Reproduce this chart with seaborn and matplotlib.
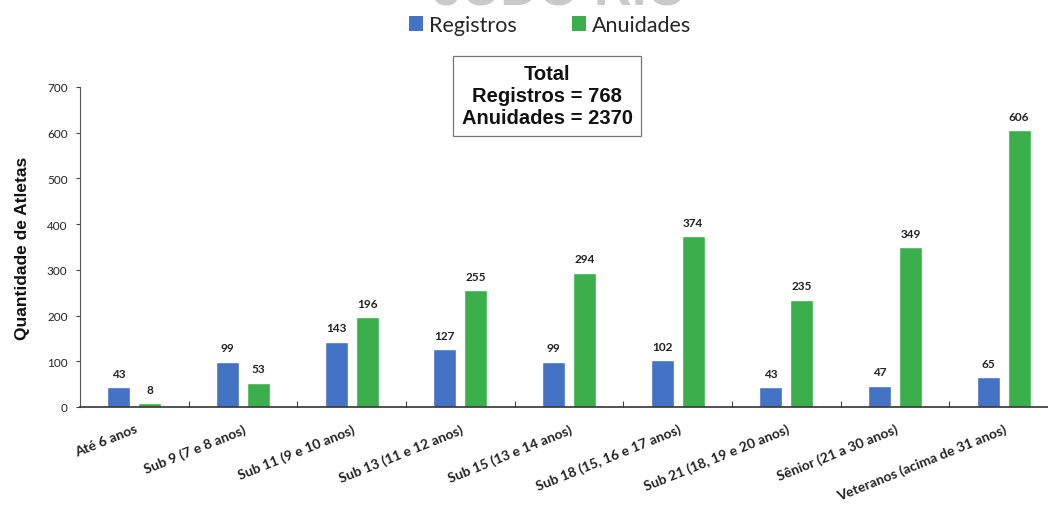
import matplotlib
matplotlib.use("Agg")
import matplotlib.pyplot as plt
import seaborn as sns
import pandas as pd
from matplotlib.ticker import FixedLocator
from matplotlib.patches import Patch

categories = ["Até 6 anos", "Sub 9 (7 e 8 anos)", "Sub 11 (9 e 10 anos)",
              "Sub 13 (11 e 12 anos)", "Sub 15 (13 e 14 anos)",
              "Sub 18 (15, 16 e 17 anos)", "Sub 21 (18, 19 e 20 anos)",
              "Sênior (21 a 30 anos)", "Veteranos (acima de 31 anos)"]
registros = [43, 99, 143, 127, 99, 102, 43, 47, 65]
anuidades = [8, 53, 196, 255, 294, 374, 235, 349, 606]
series_names = ["Registros", "Anuidades"]
total_text = "Total\nRegistros = 768\nAnuidades = 2370"

df = pd.DataFrame({
    "cat": categories * 2,
    "val": registros + anuidades,
    "serie": [series_names[0]] * len(categories) + [series_names[1]] * len(categories),
})

sns.set_theme(style="white")
plt.rcParams["font.family"] = ["Lato", "DejaVu Sans"]

colors = {"Registros": "#4472C4", "Anuidades": "#3AAF4C"}

fig = plt.figure(figsize=(10.48, 5.06), dpi=100)
ax = fig.add_axes([80 / 1048, 1 - 408 / 506, (1058 - 80) / 1048, 320 / 506])

sns.barplot(data=df, x="cat", y="val", hue="serie", palette=colors,
            width=0.57, gap=0.26, ax=ax, legend=False, saturation=1)

ax.set_ylim(0, 700)
ax.set_xlim(-0.5, len(categories) - 0.5)
ax.set_yticks(range(0, 701, 100))
ax.tick_params(axis="y", labelsize=8.5, length=3, width=0.8, color="#444444",
               labelcolor="#222222", pad=6, direction="out", left=True)
ax.set_xticks(range(len(categories)))
ax.set_xticklabels(categories, rotation=22, ha="right", rotation_mode="anchor",
                   fontsize=10, fontweight="bold", color="#222222")
ax.tick_params(axis="x", length=0, pad=11)
ax.xaxis.set_minor_locator(FixedLocator([i + 0.5 for i in range(len(categories) - 1)]))
ax.tick_params(axis="x", which="minor", length=4, width=0.8, color="#444444",
               direction="in", bottom=True)
ax.set_xlabel("")
ax.set_ylabel("Quantidade de Atletas", fontsize=12.5, fontweight="bold",
              family="Liberation Sans", color="#111111", labelpad=12)

for s in ["top", "right"]:
    ax.spines[s].set_visible(False)
ax.spines["left"].set_color("#555555")
ax.spines["bottom"].set_color("#333333")
ax.spines["left"].set_linewidth(0.8)
ax.spines["bottom"].set_linewidth(1.2)

for cont in ax.containers:
    ax.bar_label(cont, fmt="%d", padding=6, fontsize=8.5, fontweight="bold",
                 color="#222222")

# legend
handles = [Patch(facecolor=colors[n], edgecolor="none") for n in series_names]
fig.legend(handles, series_names, loc="center", bbox_to_anchor=(550 / 1048, 1 - 26 / 506),
           ncol=2, frameon=False, fontsize=15.5, handlelength=0.65, handleheight=0.65,
           handletextpad=0.25, columnspacing=2.6)

# total box
fig.text(547 / 1048, 1 - 97 / 506, total_text, ha="center", va="center",
         fontsize=14.5, fontweight="bold", family="Liberation Sans", linespacing=1.2,
         color="#111111",
         bbox=dict(boxstyle="square,pad=0.4", facecolor="white",
                   edgecolor="#777777", linewidth=0.9))

# watermark (cut off at the top, as in the source image)
fig.text(560 / 1048, 1 - 17 / 506, "JUDO RIO", ha="center", va="bottom",
         fontsize=38, fontweight="bold", color="#c9c9c9", family="Liberation Sans")

fig.savefig("out.png", dpi=100)
